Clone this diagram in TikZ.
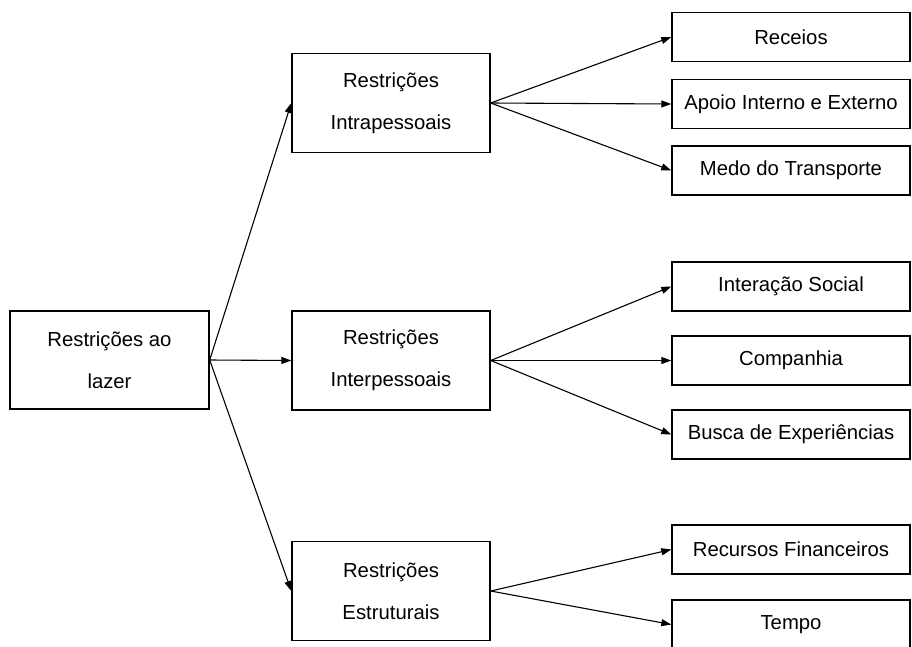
\documentclass[tikz,border=0pt]{standalone}
\usepackage{fontspec}
\setmainfont{Liberation Sans}
\usetikzlibrary{arrows.meta}
\tikzset{
	caixa/.style={draw, line width=1.4pt, inner sep=0pt, align=center, font=\fontsize{20.3}{42}\selectfont},
	raiz/.style={caixa, minimum width=199pt, minimum height=98pt},
	grupo/.style={caixa, minimum width=198pt, minimum height=99pt},
	item/.style={caixa, minimum width=238pt, minimum height=49pt},
	seta/.style={line width=1.1pt, -{Triangle[length=10pt, width=7pt]}}
}

\begin{document}
\begin{tikzpicture}[x=1pt, y=-1pt]
		%%%%% START %%%%%
		\useasboundingbox (0, 0) rectangle (912, 646);
		
		\node[raiz] (lazer) at (109.5, 360) {Restrições ao\\lazer};
		
		\node[grupo] (intra) at (391, 103) {Restrições\\Intrapessoais};
		\node[grupo] (inter) at (391, 360.5) {Restrições\\Interpessoais};
		\node[grupo] (estru) at (391, 591) {Restrições\\Estruturais};
		
		\node[item] (receios) at (791, 37) {Receios};
		\node[item] (apoio) at (791, 104) {Apoio Interno e Externo};
		\node[item] (medo) at (791, 170.5) {Medo do Transporte};
		
		\node[item] (social) at (791, 286.5) {Interação Social};
		\node[item] (companhia) at (791, 360.5) {Companhia};
		\node[item] (busca) at (791, 434.5) {Busca de Experiências};
		
		\node[item] (recursos) at (791, 549.5) {Recursos Financeiros};
		\node[item] (tempo) at (791, 624.5) {Tempo};
		
		\draw[seta] (lazer.east) -- (intra.west);
		\draw[seta] (lazer.east) -- (inter.west);
		\draw[seta] (lazer.east) -- (estru.west);
		
		\draw[seta] (intra.east) -- (receios.west);
		\draw[seta] (intra.east) -- (apoio.west);
		\draw[seta] (intra.east) -- (medo.west);
		
		\draw[seta] (inter.east) -- (social.west);
		\draw[seta] (inter.east) -- (companhia.west);
		\draw[seta] (inter.east) -- (busca.west);
		
		\draw[seta] (estru.east) -- (recursos.west);
		\draw[seta] (estru.east) -- (tempo.west);
		
		%%%%% END %%%%%
	\end{tikzpicture}
\end{document}
